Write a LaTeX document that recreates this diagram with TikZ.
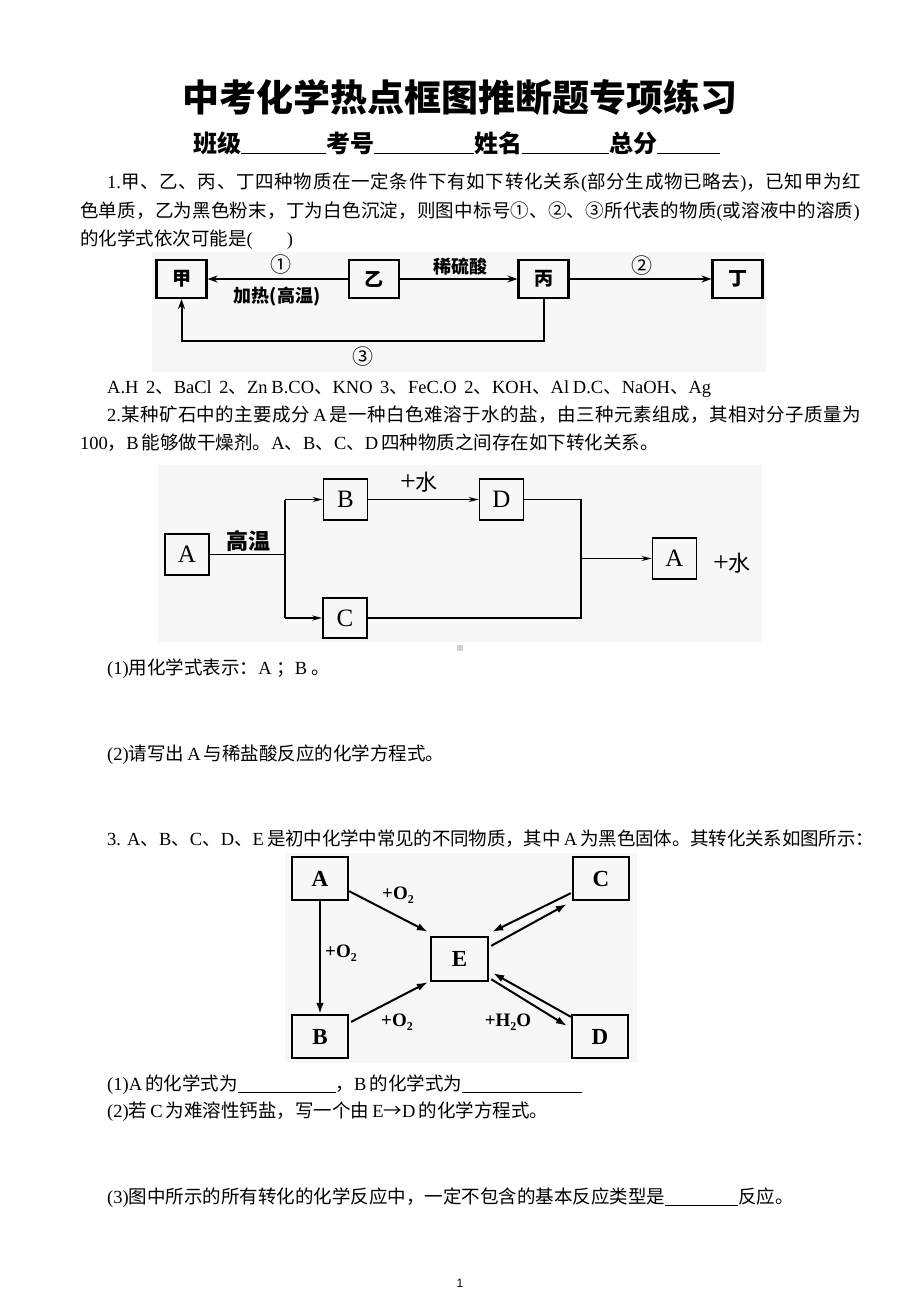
\documentclass[tikz,border=0pt]{standalone}
\usepackage{fontspec}
\setmainfont{Noto Sans CJK SC}
\newfontfamily\lat{Liberation Serif}
\newfontfamily\latsans{Liberation Sans}
\usetikzlibrary{arrows.meta,calc}
\newcommand\LT[1]{{\lat #1}}
\newcommand\blankline[1]{\rule[-3pt]{#1}{0.9pt}}
\newcommand\subtwo{\raisebox{-4pt}{\fontsize{12}{12}\selectfont 2}}
\newcommand\fullline[2]{\makebox[#1][s]{#2}}
\newcommand\spaced[2]{{\addfontfeature{LetterSpace=#1}#2}}
\begin{document}
\begin{tikzpicture}[x=1pt,y=-1pt,
  bodytext/.style={anchor=base west,inner sep=0pt,font=\fontsize{18.5}{22}\selectfont},
  boxone/.style={draw,line width=2.1pt,minimum width=50pt,minimum height=38pt,inner sep=0pt,font=\bfseries\fontsize{19}{19}\selectfont},
  arrone/.style={line width=2pt,-{Stealth[length=10pt,width=7pt]}},
  lblone/.style={inner sep=0pt,font=\bfseries\fontsize{18}{18}\selectfont},
  boxtwo/.style={draw,line width=1.6pt,minimum width=44pt,minimum height=41pt,inner sep=0pt,font=\lat\fontsize{25}{25}\selectfont},
  linetwo/.style={line width=1.6pt},
  arrtwo/.style={line width=1.6pt,-{Stealth[length=10pt,width=5pt]}},
  boxthree/.style={draw,line width=2.3pt,minimum width=56pt,minimum height=43pt,inner sep=0pt,font=\lat\bfseries\fontsize{23}{23}\selectfont},
  arrthree/.style={line width=2pt,-{Latex[length=11pt,width=7.5pt]}},
  lblthree/.style={inner sep=0pt,font=\lat\bfseries\fontsize{19}{19}\selectfont},
  figbg/.style={fill=black!3,draw=none}
]
\useasboundingbox (0,0) rectangle (920,1302);
\fill[white] (0,0) rectangle (920,1302);

% Title
\node[font=\bfseries\fontsize{37}{40}\selectfont] (title) at (460,97) {中考化学热点框图推断题专项练习};
\node[anchor=west,inner sep=0pt,font=\bfseries\fontsize{24}{26}\selectfont] (sub) at (193,143) {班级\rule[-2pt]{85pt}{1pt}考号\rule[-2pt]{100pt}{1pt}姓名\rule[-2pt]{87pt}{1pt}总分\rule[-2pt]{63pt}{1pt}};

% Question 1
\node[bodytext] (q1a) at (107,188) {\spaced{3.8}{\LT{1.}甲、乙、丙、丁四种物质在一定条件下有如下转化关系\LT{(}部分生成物已略去\LT{)}，已知甲为红}};
\node[bodytext] (q1b) at (80,217) {\spaced{1.2}{色单质，乙为黑色粉末，丁为白色沉淀，则图中标号①、②、③所代表的物质\LT{(}或溶液中的溶质\LT{)}}};
\node[bodytext] (q1c) at (80,245) {的化学式依次可能是\LT{(\hspace{34pt})}};

% Figure 1
\fill[figbg] (152,252) rectangle (766,372);
\node[boxone] (jia) at (181.5,279) {甲};
\node[boxone] (yi) at (374,279) {乙};
\node[boxone] (bing) at (543.5,279) {丙};
\node[boxone] (ding) at (737.5,279) {丁};
\coordinate (bl) at (181.5,341);
\draw[arrone] (yi) -- (jia);
\draw[arrone] (yi) -- (bing);
\draw[arrone] (bing) -- (ding);
\draw[arrone] (bing.south) |- (bl) -- (jia.south);
\node[lblone,font=\fontsize{21}{21}\selectfont] (c1) at (281,265) {①};
\node[lblone] (heat) at (277,297) {加热(高温)};
\node[lblone] (acid) at (460,267) {稀硫酸};
\node[lblone,font=\fontsize{21}{21}\selectfont] (c2) at (642,266) {②};
\node[lblone,font=\fontsize{21}{21}\selectfont] (c3) at (363,357) {③};

\node[bodytext] (opts) at (107,393) {\fullline{604pt}{\LT{A.H\ \ 2}、\LT{BaCl\ \ 2}、\LT{Zn B.CO}、\LT{KNO\ \ 3}、\LT{FeC.O\ \ 2}、\LT{KOH}、\LT{Al D.C}、\LT{NaOH}、\LT{Ag}}};

% Question 2
\node[bodytext] (q2a) at (107,421) {\spaced{2.6}{\LT{2.}某种矿石中的主要成分\LT{\,A\,}是一种白色难溶于水的盐，由三种元素组成，其相对分子质量为}};
\node[bodytext] (q2b) at (80,449) {\LT{100}，\LT{B\,}能够做干燥剂。\LT{A}、\LT{B}、\LT{C}、\LT{D\,}四种物质之间存在如下转化关系。};

% Figure 2
\fill[figbg] (158,465) rectangle (762,642);
\node[boxtwo] (A1) at (187,554.5) {A};
\node[boxtwo] (B2) at (345.5,499.5) {B};
\node[boxtwo] (D2) at (501.5,499.5) {D};
\node[boxtwo,minimum height=40pt] (C2) at (345,618) {C};
\node[boxtwo] (A2) at (674.5,558.5) {A};
\coordinate (jm) at (285,554.5);
\coordinate (jt) at (285,499.5);
\coordinate (jb) at (285,618);
\coordinate (rb) at (581,618);
\coordinate (rm) at (581,558.5);
\draw[linetwo] (A1.east) -- (jm);
\draw[linetwo] (jt) -- (jb);
\draw[arrtwo] (jt) -- (B2.west);
\draw[arrtwo] (jb) -- (C2.west);
\draw[arrtwo] (B2) -- (D2);
\draw[linetwo] (D2.east) -| (rb) -- (C2.east);
\draw[arrtwo] (rm) -- (A2.west);
\node[inner sep=0pt,font=\bfseries\fontsize{22}{22}\selectfont] (ht) at (248,541) {高温};
\node[inner sep=0pt,font=\fontsize{22}{22}\selectfont] (w1) at (419,482) {{\lat\fontsize{28}{28}\selectfont +}水};
\node[inner sep=0pt,font=\fontsize{22}{22}\selectfont] (w2) at (732,563) {{\lat\fontsize{28}{28}\selectfont +}水};
\fill[black!18] (457,645) rectangle (463,651);

\node[bodytext] (q2c) at (107,674) {\LT{(1)}用化学式表示：\LT{A }；\LT{B }。};
\node[bodytext] (q2d) at (107,760) {\LT{(2)}请写出\LT{\,A\,}与稀盐酸反应的化学方程式。};

% Question 3
\node[bodytext] (q3a) at (107,845) {\spaced{-0.8}{\LT{3. A}、\LT{B}、\LT{C}、\LT{D}、\LT{E\,}是初中化学中常见的不同物质，其中\LT{\,A\,}为黑色固体。其转化关系如图所示：}};

% Figure 3
\fill[figbg] (285,853) rectangle (637,1063);
\node[boxthree] (A3) at (320,878.5) {A};
\node[boxthree] (C3) at (601,878.5) {C};
\node[boxthree,minimum width=57pt,minimum height=44pt] (E3) at (459.5,959) {E};
\node[boxthree] (B3) at (320,1036.5) {B};
\node[boxthree] (D3) at (600,1036.5) {D};
\draw[arrthree] (A3.south) -- (B3.north);
\draw[arrthree] ($(A3.south east)+(0,-10)$) -- ($(E3.north west)+(-2,-4)$);
\draw[arrthree] ($(B3.north east)+(2,8)$) -- ($(E3.south west)+(-2,0)$);
\draw[arrthree] ($(C3.south west)+(-1,-8)$) -- ($(E3.north east)+(3,-4)$);
\draw[arrthree] ($(E3.north east)+(2,10)$) -- ($(C3.south west)+(-5,3)$);
\draw[arrthree] ($(E3.south east)+(2,-3)$) -- ($(D3.north west)+(-4,12)$);
\draw[arrthree] ($(D3.north west)+(0,3)$) -- ($(E3.south east)+(4,-9)$);
\node[lblthree] (o1) at (398,895) {+O\subtwo};
\node[lblthree] (o2) at (341,953) {+O\subtwo};
\node[lblthree] (o3) at (397,1022) {+O\subtwo};
\node[lblthree] (h2o) at (508,1022) {+H\subtwo O};

\node[bodytext] (q3b) at (107,1090) {\LT{(1)A\,}的化学式为\blankline{98pt}，\LT{B\,}的化学式为\blankline{120pt}};
\node[bodytext] (q3c) at (107,1117) {\LT{(2)}若\LT{\,C\,}为难溶性钙盐，写一个由\LT{\,E}→\LT{D\,}的化学方程式。};
\node[bodytext] (q3d) at (107,1203) {\LT{(3)}图中所示的所有转化的化学反应中，一定不包含的基本反应类型是\blankline{73pt}反应。};

\node[inner sep=0pt,font=\latsans\fontsize{12}{12}\selectfont] (pg) at (460,1283) {1};
\end{tikzpicture}
\end{document}
